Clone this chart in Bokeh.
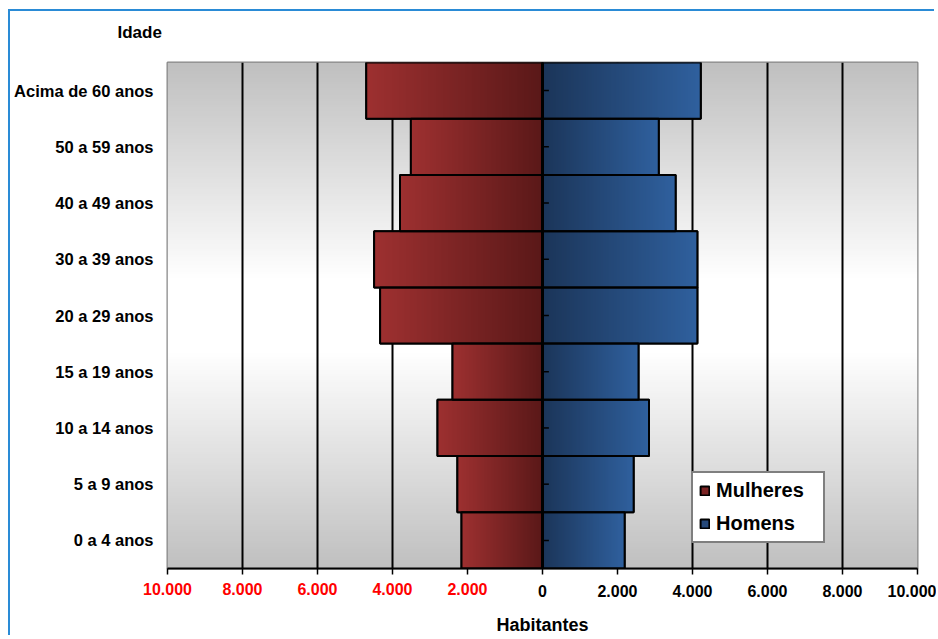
import numpy as np
from bokeh.plotting import figure
from bokeh.models import (Range1d, FixedTicker, ColumnDataSource, LinearAxis, Title,
                          Legend, LegendItem, Span, InlineStyleSheet)
from bokeh.embed import file_html
from bokeh.resources import INLINE

# ---------------- data ----------------
categories = ["0 a 4 anos", "5 a 9 anos", "10 a 14 anos", "15 a 19 anos",
              "20 a 29 anos", "30 a 39 anos", "40 a 49 anos", "50 a 59 anos",
              "Acima de 60 anos"]
mulheres = [2160, 2270, 2800, 2400, 4330, 4490, 3800, 3510, 4700]
homens = [2190, 2430, 2840, 2560, 4130, 4130, 3550, 3100, 4220]
x_ticks = [-10000, -8000, -6000, -4000, -2000, 0, 2000, 4000, 6000, 8000, 10000]
y_title = "Idade"
x_title = "Habitantes"

FONT = "Liberation Sans"
X_MIN, X_MAX = x_ticks[0], x_ticks[-1]
n = len(categories)
idx = list(range(n))


def fmt(v):
    return f"{abs(v):,}".replace(",", ".")


def rgba(rows):
    rows = np.asarray(rows, dtype=np.uint8)
    h, w = rows.shape[0], rows.shape[1]
    img = np.zeros((h, w), dtype=np.uint32)
    view = img.view(dtype=np.uint8).reshape((h, w, 4))
    view[:, :, :3] = rows
    view[:, :, 3] = 255
    return img


def hgrad(c0, c1, steps=96):
    t = np.linspace(0, 1, steps)[:, None]
    row = (np.array(c0) * (1 - t) + np.array(c1) * t).round()
    return rgba(row[None, :, :])


p = figure(width=926, height=626, output_backend="svg", toolbar_location=None,
           x_range=Range1d(X_MIN, X_MAX), y_range=Range1d(-0.5, n - 0.5),
           min_border_left=157, min_border_right=19, min_border_top=51,
           min_border_bottom=69)
p.stylesheets = [InlineStyleSheet(css=":host { margin-left: 10px; margin-top: 11px; "
                                      "box-shadow: -2px -2px 0px 0px #2a8bd6; }")]
p.background_fill_color = "#ffffff"
p.border_fill_color = "#ffffff"
p.outline_line_color = "#868686"
p.outline_line_width = 2
p.xgrid.visible = False
p.ygrid.visible = False

# heading of the category axis (second, empty line lifts it above the frame)
p.add_layout(Title(text=y_title + "\n", align="left", offset=-50, standoff=0,
                   vertical_align="top",
                   text_font=FONT, text_font_style="bold", text_font_size="17px",
                   text_color="black"), "above")

# background: vertical gray-white-gray gradient
H = 240
tt = np.abs(np.linspace(-1, 1, H))
vals = 255 - 63 * np.clip((tt - 0.15) / 0.85, 0, 1)
bg_rows = np.repeat(np.repeat(vals[:, None], 2, axis=1)[:, :, None], 3, axis=2)
p.image_rgba(image=[rgba(bg_rows)], x=X_MIN, y=-0.5, dw=X_MAX - X_MIN, dh=n)

# vertical grid lines
grid_x = [t for t in x_ticks if t not in (X_MIN, X_MAX, 0)]
p.segment(x0=grid_x, x1=grid_x, y0=-0.5, y1=n - 0.5, line_color="black", line_width=2)

# bars (solid base for legend)
src = ColumnDataSource(dict(y=idx, m=[-v for v in mulheres], h=homens))
r_m = p.hbar(y="y", left="m", right=0, height=1.0, source=src,
             fill_color="#7c2424", line_color="black", line_width=2)
r_h = p.hbar(y="y", left=0, right="h", height=1.0, source=src,
             fill_color="#26497a", line_color="black", line_width=2)

# gradients inside bars
RED_OUT, RED_IN = (157, 48, 48), (90, 24, 24)
BLUE_IN, BLUE_OUT = (27, 53, 89), (47, 96, 158)
p.image_rgba(image=[hgrad(RED_OUT, RED_IN) for _ in mulheres],
             x=[-v for v in mulheres], y=[i - 0.5 for i in idx],
             dw=mulheres, dh=[1] * n)
p.image_rgba(image=[hgrad(BLUE_IN, BLUE_OUT) for _ in homens],
             x=[0] * n, y=[i - 0.5 for i in idx], dw=homens, dh=[1] * n)

# outlines on top
p.hbar(y="y", left="m", right=0, height=1.0, source=src, fill_color=None,
       line_color="black", line_width=2)
p.hbar(y="y", left=0, right="h", height=1.0, source=src, fill_color=None,
       line_color="black", line_width=2)

# central vertical axis with small ticks
p.add_layout(Span(location=0, dimension="height", line_color="black", line_width=3))
p.segment(x0=[0] * n, x1=[170] * n, y0=idx, y1=idx, line_color="black", line_width=1.5)


def style_x(ax, color):
    ax.minor_tick_line_color = None
    ax.major_label_text_font = FONT
    ax.major_label_text_font_style = "bold"
    ax.major_label_text_font_size = "16px"
    ax.major_label_text_color = color


# x axis (black labels for 0 and positives)
xa = p.xaxis[0]
xa.ticker = FixedTicker(ticks=x_ticks)
xa.major_label_overrides = {t: ("" if t < 0 else fmt(t)) for t in x_ticks}
xa.axis_line_color = "black"
xa.axis_line_width = 2
xa.major_tick_line_color = "black"
xa.major_tick_line_width = 1.5
xa.major_tick_out = 6
xa.major_tick_in = 0
xa.major_label_standoff = 10
style_x(xa, "black")

# second x axis, stacked below the first but drawn back up into the same row:
# red labels for the women's side + the axis title
neg = [t for t in x_ticks if t < 0]
xr = LinearAxis(ticker=FixedTicker(ticks=neg),
                major_label_overrides={t: fmt(t) for t in neg})
xr.axis_line_color = None
xr.major_tick_line_color = None
xr.major_tick_out = 0
xr.major_tick_in = 0
xr.major_label_standoff = -17
style_x(xr, "#ff0000")
xr.axis_label = x_title
xr.axis_label_text_font = FONT
xr.axis_label_text_font_style = "bold"
xr.axis_label_text_font_size = "18px"
xr.axis_label_text_color = "black"
xr.axis_label_standoff = 17
p.add_layout(xr, "below")

# y axis
ya = p.yaxis[0]
ya.ticker = FixedTicker(ticks=idx)
ya.major_label_overrides = {i: c for i, c in zip(idx, categories)}
ya.axis_line_color = None
ya.major_tick_line_color = None
ya.major_tick_out = 0
ya.major_tick_in = 0
ya.minor_tick_line_color = None
ya.major_label_standoff = 14
ya.major_label_text_font = FONT
ya.major_label_text_font_style = "bold"
ya.major_label_text_font_size = "16.5px"
ya.major_label_text_color = "black"

# legend
legend = Legend(items=[LegendItem(label="Mulheres", renderers=[r_m]),
                       LegendItem(label="Homens", renderers=[r_h])],
                location=(524, 25), orientation="vertical")
legend.label_text_font = FONT
legend.label_text_font_style = "bold"
legend.label_text_font_size = "20px"
legend.label_text_color = "black"
legend.glyph_width = 11
legend.glyph_height = 11
legend.label_standoff = 6
legend.label_width = 101
legend.spacing = 10
legend.padding = 6
legend.margin = 0
legend.border_line_color = "black"
legend.border_line_width = 2
legend.background_fill_color = "white"
legend.background_fill_alpha = 1
p.add_layout(legend)

open("out.html", "w").write(file_html(p, INLINE))
